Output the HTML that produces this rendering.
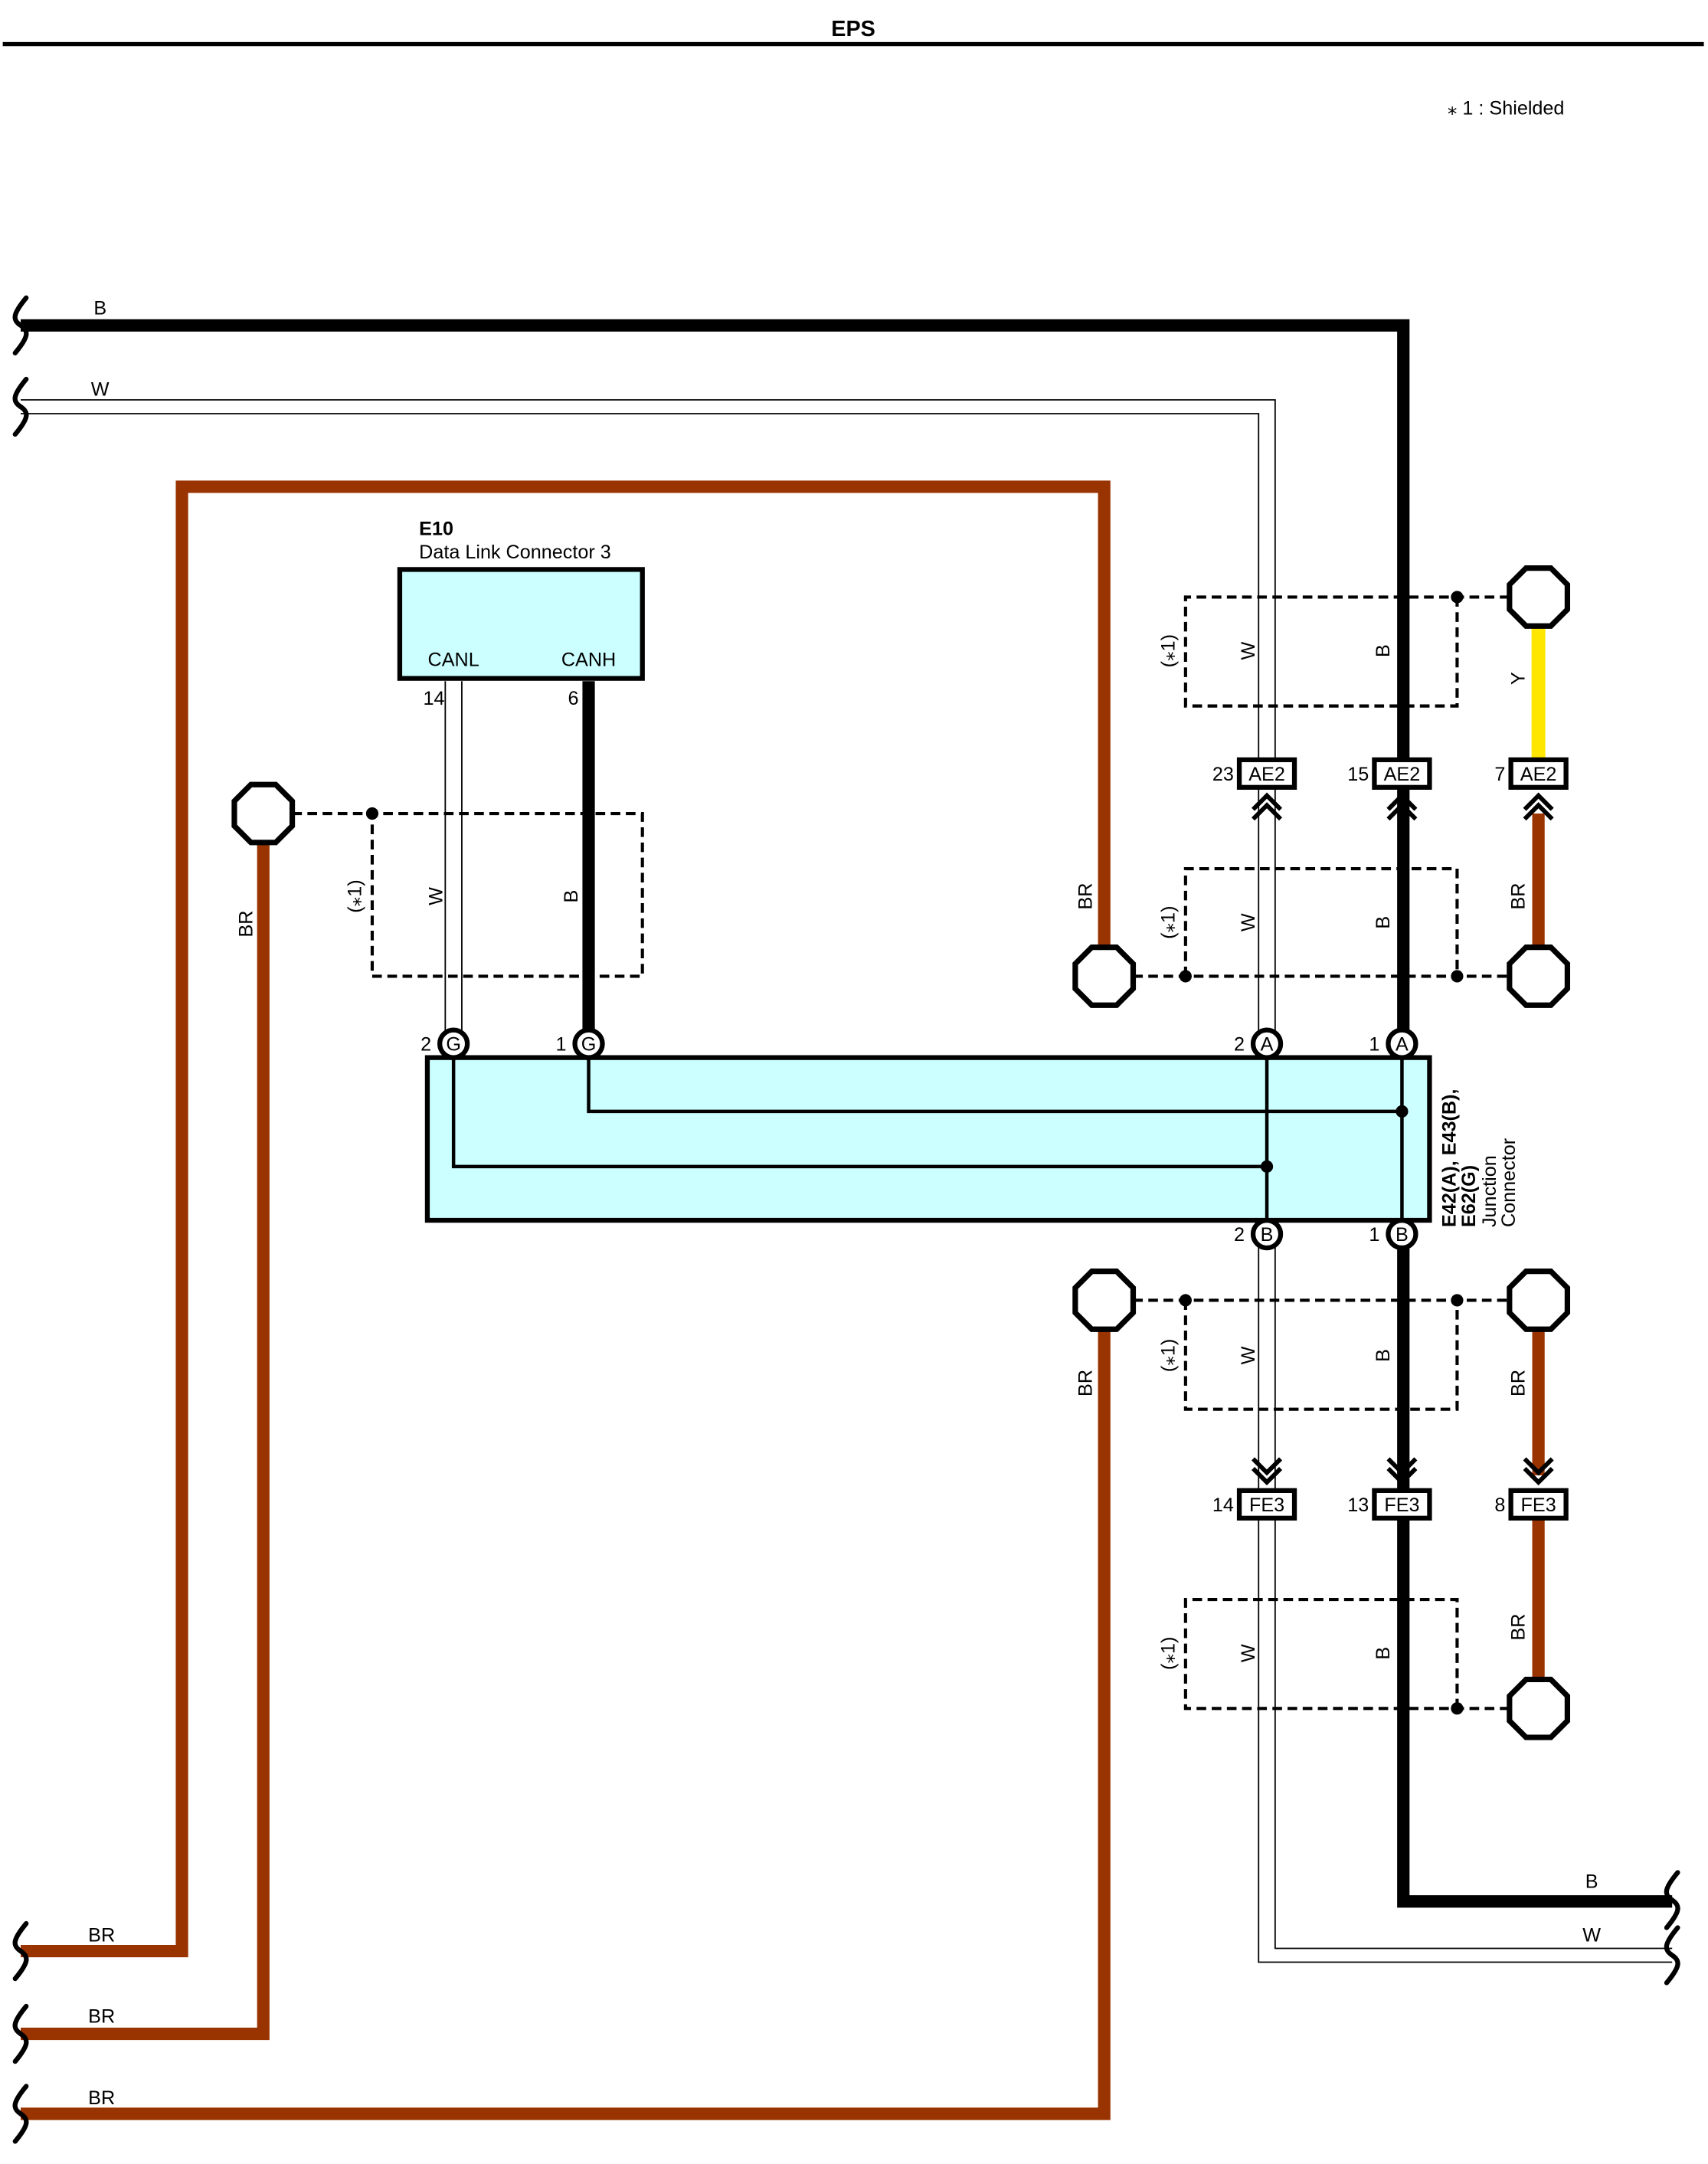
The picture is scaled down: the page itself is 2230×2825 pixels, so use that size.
<!DOCTYPE html>
<html><head><meta charset="utf-8"><style>
html,body{margin:0;padding:0;background:#fff}
svg{display:block}
text{font-family:"Liberation Sans",sans-serif;fill:#000}
</style></head><body>
<svg width="2230" height="2825" viewBox="0 0 1239 1569.4" preserveAspectRatio="none" xmlns="http://www.w3.org/2000/svg">
<defs>
<path id="oct" d="M-9,-21 L9,-21 L21,-9 L21,9 L9,21 L-9,21 L-21,9 L-21,-9 Z" fill="#fff" stroke="#000" stroke-width="4"/>
<path id="sq" d="M4,-20 C-6,-8 -6,-4 0,0 C6,4 6,8 -4,20" fill="none" stroke="#000" stroke-width="3.5" stroke-linecap="round"/>
<g id="chevU" fill="none" stroke="#000" stroke-width="3.2"><path d="M-10,7 L0,-3 L10,7"/><path d="M-10,14 L0,4 L10,14"/></g>
<g id="chevD" fill="none" stroke="#000" stroke-width="3.2"><path d="M-10,-7 L0,3 L10,-7"/><path d="M-10,-14 L0,-4 L10,-14"/></g>
</defs>
<!-- title -->
<text x="619" y="26" font-size="16" font-weight="bold" text-anchor="middle">EPS</text>
<line x1="2" y1="32" x2="1236" y2="32" stroke="#000" stroke-width="3"/>
<text x="1050" y="83" font-size="14">⁎ 1 : Shielded</text>

<!-- B wire -->
<path d="M15,236 H1018 V756" fill="none" stroke="#000" stroke-width="9"/>
<path d="M1018,895 V1379 H1213" fill="none" stroke="#000" stroke-width="9"/>
<!-- W wires -->
<path d="M15,290 H925 V756" fill="none" stroke="#000" stroke-width="1"/>
<path d="M15,300 H913 V756" fill="none" stroke="#000" stroke-width="1"/>
<path d="M913,895 V1423 H1213" fill="none" stroke="#000" stroke-width="1"/>
<path d="M925,895 V1413 H1213" fill="none" stroke="#000" stroke-width="1"/>
<!-- BR wires -->
<g fill="none" stroke="#993300" stroke-width="9">
<path d="M15,1415 H132 V353 H801 V690"/>
<path d="M15,1475 H191 V605"/>
<path d="M15,1533 H801 V960"/>
<path d="M1116,590 V690"/>
<path d="M1116,960 V1070"/>
<path d="M1116,1101 V1222"/>
</g>
<path d="M1116,455 V551" stroke="#ffe600" stroke-width="10"/>
<!-- squiggles -->
<use href="#sq" x="15" y="236"/><use href="#sq" x="15" y="295"/>
<use href="#sq" x="15" y="1415"/><use href="#sq" x="15" y="1475"/><use href="#sq" x="15" y="1533"/>
<use href="#sq" x="1213" y="1378"/><use href="#sq" x="1213" y="1418"/>
<!-- wire labels -->
<g font-size="14">
<text x="68" y="228">B</text><text x="66" y="287">W</text>
<text x="64" y="1408">BR</text><text x="64" y="1467">BR</text><text x="64" y="1526">BR</text>
<text x="1150" y="1369">B</text><text x="1148" y="1408">W</text>
</g>

<!-- E10 -->
<text x="304" y="388" font-size="14" font-weight="bold">E10</text>
<text x="304" y="405" font-size="14">Data Link Connector 3</text>
<rect x="290" y="413" width="176" height="79" fill="#ccffff" stroke="#000" stroke-width="3.5"/>
<text x="329" y="483" font-size="14" text-anchor="middle">CANL</text>
<text x="427" y="483" font-size="14" text-anchor="middle">CANH</text>
<line x1="323" y1="494" x2="323" y2="756" stroke="#000" stroke-width="1"/>
<line x1="335" y1="494" x2="335" y2="756" stroke="#000" stroke-width="1"/>
<line x1="427" y1="494" x2="427" y2="756" stroke="#000" stroke-width="9"/>
<text x="307" y="511" font-size="14">14</text>
<text x="412" y="511" font-size="14">6</text>

<!-- shields -->
<g fill="none" stroke="#000" stroke-width="2.3" stroke-dasharray="7,4">
<path d="M212,590 H466 V708 H270 V590"/>
<path d="M1095,433 H860 V512 H1057 V433"/>
<path d="M822,708 H1095 M860,708 V630 H1057 V708"/>
<path d="M822,943 H1095 M860,943 V1022 H1057 V943"/>
<path d="M1095,1239 H860 V1160 H1057 V1239"/>
</g>
<g fill="#000">
<circle cx="270" cy="590" r="4.5"/><circle cx="1057" cy="433" r="4.5"/>
<circle cx="860" cy="708" r="4.5"/><circle cx="1057" cy="708" r="4.5"/>
<circle cx="860" cy="943" r="4.5"/><circle cx="1057" cy="943" r="4.5"/>
<circle cx="1057" cy="1239" r="4.5"/>
</g>
<!-- octagons -->
<use href="#oct" x="191" y="590"/><use href="#oct" x="801" y="708"/><use href="#oct" x="801" y="943"/>
<use href="#oct" x="1116" y="433"/><use href="#oct" x="1116" y="708"/><use href="#oct" x="1116" y="943"/><use href="#oct" x="1116" y="1239"/>

<!-- rotated labels -->
<g font-size="14">
<text transform="translate(262,650) rotate(-90)" text-anchor="middle">(⁎1)</text>
<text transform="translate(321,650) rotate(-90)" text-anchor="middle">W</text>
<text transform="translate(419,650) rotate(-90)" text-anchor="middle">B</text>
<text transform="translate(183,670) rotate(-90)" text-anchor="middle">BR</text>
<text transform="translate(792,650) rotate(-90)" text-anchor="middle">BR</text>
<text transform="translate(792,1003) rotate(-90)" text-anchor="middle">BR</text>
<text transform="translate(1106,650) rotate(-90)" text-anchor="middle">BR</text>
<text transform="translate(1106,1003) rotate(-90)" text-anchor="middle">BR</text>
<text transform="translate(1106,1180) rotate(-90)" text-anchor="middle">BR</text>
<text transform="translate(1106,492) rotate(-90)" text-anchor="middle">Y</text>
<g>
<text transform="translate(852,472) rotate(-90)" text-anchor="middle">(⁎1)</text>
<text transform="translate(910,472) rotate(-90)" text-anchor="middle">W</text>
<text transform="translate(1008,472) rotate(-90)" text-anchor="middle">B</text>
<text transform="translate(852,669) rotate(-90)" text-anchor="middle">(⁎1)</text>
<text transform="translate(910,669) rotate(-90)" text-anchor="middle">W</text>
<text transform="translate(1008,669) rotate(-90)" text-anchor="middle">B</text>
<text transform="translate(852,983) rotate(-90)" text-anchor="middle">(⁎1)</text>
<text transform="translate(910,983) rotate(-90)" text-anchor="middle">W</text>
<text transform="translate(1008,983) rotate(-90)" text-anchor="middle">B</text>
<text transform="translate(852,1199) rotate(-90)" text-anchor="middle">(⁎1)</text>
<text transform="translate(910,1199) rotate(-90)" text-anchor="middle">W</text>
<text transform="translate(1008,1199) rotate(-90)" text-anchor="middle">B</text>
</g>
</g>

<!-- junction connector -->
<rect x="310" y="767" width="727" height="118" fill="#ccffff" stroke="#000" stroke-width="3.5"/>
<g fill="none" stroke="#000" stroke-width="2.5">
<path d="M427,767 V806 H1017"/>
<path d="M329,767 V846 H919"/>
<line x1="919" y1="767" x2="919" y2="885"/>
<line x1="1017" y1="767" x2="1017" y2="885"/>
</g>
<circle cx="1017" cy="806" r="4.5"/><circle cx="919" cy="846" r="4.5"/>
<g font-size="14" text-anchor="middle">
<g fill="#fff" stroke="#000" stroke-width="3.5">
<circle cx="329" cy="757" r="10"/><circle cx="427" cy="757" r="10"/>
<circle cx="919" cy="757" r="10"/><circle cx="1017" cy="757" r="10"/>
<circle cx="919" cy="895" r="10"/><circle cx="1017" cy="895" r="10"/>
</g>
<text x="329" y="762">G</text><text x="427" y="762">G</text>
<text x="919" y="762">A</text><text x="1017" y="762">A</text>
<text x="919" y="900">B</text><text x="1017" y="900">B</text>
<text x="309" y="762">2</text><text x="407" y="762">1</text>
<text x="899" y="762">2</text><text x="997" y="762">1</text>
<text x="899" y="900">2</text><text x="997" y="900">1</text>
</g>
<g font-size="14">
<text transform="translate(1056,890) rotate(-90)" font-weight="bold">E42(A), E43(B),</text>
<text transform="translate(1070,890) rotate(-90)" font-weight="bold">E62(G)</text>
<text transform="translate(1085,890) rotate(-90)">Junction</text>
<text transform="translate(1099,890) rotate(-90)">Connector</text>
</g>

<!-- AE2 / FE3 connectors -->
<g font-size="14">
<g fill="#fff" stroke="#000" stroke-width="3.5">
<rect x="899" y="551" width="40" height="20"/><rect x="997" y="551" width="40" height="20"/><rect x="1096" y="551" width="40" height="20"/>
<rect x="899" y="1081" width="40" height="20"/><rect x="997" y="1081" width="40" height="20"/><rect x="1096" y="1081" width="40" height="20"/>
</g>
<g text-anchor="middle">
<text x="919" y="566">AE2</text><text x="1017" y="566">AE2</text><text x="1116" y="566">AE2</text>
<text x="919" y="1096">FE3</text><text x="1017" y="1096">FE3</text><text x="1116" y="1096">FE3</text>
</g>
<g text-anchor="end">
<text x="895" y="566">23</text><text x="993" y="566">15</text><text x="1092" y="566">7</text>
<text x="895" y="1096">14</text><text x="993" y="1096">13</text><text x="1092" y="1096">8</text>
</g>
</g>
<g fill="none" stroke="#fff" stroke-width="7"><path d="M1116,574 V590"/></g>
<use href="#chevU" x="919" y="580"/><use href="#chevU" x="1017" y="580"/><use href="#chevU" x="1116" y="580"/>
<use href="#chevD" x="919" y="1072"/><use href="#chevD" x="1017" y="1072"/><use href="#chevD" x="1116" y="1072"/>
</svg>
</body></html>
